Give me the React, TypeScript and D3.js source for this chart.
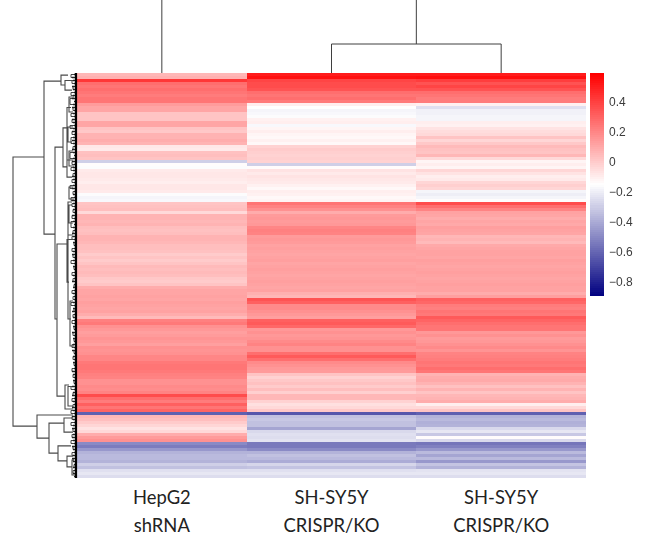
import React from "react";
import * as d3 from "d3";

const hepg2 = [0.05,0.07,0.42,0.26,0.24,0.26,0.24,0.22,0.24,0.24,0.13,0.10,0.10,0.01,0.01,0.01,0.10,0.10,0.01,0.00,0.06,0.06,0.08,0.06,-0.09,-0.10,0.02,0.03,0.01,-0.30,-0.15,-0.17,-0.10,-0.09,-0.09,-0.10,-0.11,-0.09,-0.09,-0.10,-0.17,-0.19,-0.18,0.01,0.02,0.03,-0.05,0.06,0.06,0.05,0.06,0.03,0.02,0.03,0.06,0.06,0.05,0.03,0.03,0.02,-0.01,0.01,-0.01,0.01,0.04,0.03,0.04,0.03,0.00,-0.01,0.01,0.08,0.10,0.10,0.11,0.10,0.12,0.11,0.10,0.11,0.08,0.04,0.21,0.23,0.16,0.14,0.12,0.13,0.15,0.14,0.12,0.16,0.15,0.16,0.19,0.19,0.23,0.24,0.24,0.23,0.21,0.20,0.16,0.16,0.18,0.17,0.20,0.36,0.26,0.22,0.30,0.24,0.29,-0.62,0.05,0.03,-0.01,-0.04,-0.08,-0.05,0.08,0.13,0.16,-0.50,-0.54,-0.46,-0.38,-0.36,-0.36,-0.38,-0.30,-0.34,-0.25,-0.23,-0.26];
const sh1 = [0.50,0.53,0.38,0.36,0.36,0.34,0.26,0.24,0.26,0.23,-0.11,-0.16,-0.19,-0.18,-0.17,-0.12,-0.11,-0.18,-0.13,-0.11,-0.13,-0.14,-0.12,-0.14,-0.03,-0.01,-0.02,-0.03,-0.02,-0.03,-0.30,-0.15,-0.08,-0.10,-0.08,-0.09,-0.10,-0.12,-0.14,-0.11,-0.12,-0.14,-0.13,0.24,0.20,0.16,0.08,0.13,0.14,0.13,0.14,0.19,0.21,0.20,0.13,0.14,0.13,0.11,0.12,0.11,0.10,0.11,0.12,0.10,0.11,0.12,0.11,0.10,0.11,0.12,0.11,0.10,0.11,0.07,0.05,0.34,0.30,0.18,0.18,0.16,0.14,0.12,0.30,0.32,0.28,0.14,0.16,0.14,0.15,0.18,0.20,0.16,0.16,0.26,0.32,0.26,0.18,0.16,0.14,0.13,0.01,-0.03,0.00,0.02,-0.01,0.03,-0.02,0.05,0.05,-0.03,-0.07,-0.05,0.00,-0.65,-0.34,-0.32,-0.34,-0.34,-0.42,-0.27,-0.25,-0.26,-0.24,-0.55,-0.55,-0.50,-0.38,-0.34,-0.36,-0.40,-0.28,-0.33,-0.25,-0.23,-0.26];
const sh2 = [0.50,0.54,0.40,0.34,0.38,0.34,0.26,0.24,0.22,0.22,-0.12,-0.25,-0.20,-0.20,-0.19,-0.19,-0.11,-0.12,-0.08,-0.06,-0.05,0.01,-0.04,0.00,0.04,0.02,0.01,0.05,-0.05,-0.13,-0.11,-0.13,-0.04,-0.08,-0.11,-0.10,-0.04,-0.02,-0.04,-0.19,-0.21,-0.19,-0.15,0.36,0.26,0.20,0.11,0.10,0.08,0.10,0.09,0.12,0.11,0.10,0.05,0.06,0.04,0.09,0.10,0.11,0.11,0.10,0.12,0.11,0.10,0.11,0.12,0.11,0.10,0.11,0.12,0.11,0.11,0.08,0.12,0.30,0.28,0.22,0.21,0.24,0.23,0.32,0.29,0.26,0.24,0.24,0.14,0.16,0.13,0.14,0.16,0.18,0.15,0.20,0.21,0.22,0.24,0.23,0.26,0.24,0.06,0.08,0.09,0.06,0.02,0.06,0.01,0.05,0.06,0.08,-0.11,-0.05,0.01,-0.62,-0.38,-0.36,-0.39,-0.38,-0.27,-0.23,-0.32,-0.15,-0.27,-0.56,-0.53,-0.46,-0.36,-0.42,-0.36,-0.46,-0.33,-0.38,-0.24,-0.23,-0.26];
const columns = [hepg2, sh1, sh2];
const labelTop = ["HepG2", "SH-SY5Y", "SH-SY5Y"];
const labelBottom = ["shRNA", "CRISPR/KO", "CRISPR/KO"];
const barTicks = [0.4, 0.2, 0, -0.2, -0.4, -0.6, -0.8];
const barTickLabels = ["0.4", "0.2", "0", "\u22120.2", "\u22120.4", "\u22120.6", "\u22120.8"];

// Row dendrogram merges: [height, topRow, bottomRow, topChildHeight, bottomChildHeight]
const bigMerges = [
  [64, 28, 117.7, 33, 40],
  [33, 2.7, 53.7, 16, 22],
  [22, 24.7, 82, 14, 20],
  [20, 57, 107.7, 10, 12],
  [16, 0.7, 4, 9, 12],
  [12, 2.5, 5.7, 5, 5],
  [14, 18.3, 31.3, 9, 10],
  [10, 11.5, 34.7, 6, 5],
  [10, 29, 34.7, 4, 5],
  [10, 55.5, 69.7, 5, 8],
  [9, 50, 82, 7, 6],
  [8, 44, 50, 5, 4],
  [9, 43, 54, 5, 4],
  [7, 76, 91, 4, 3],
  [12, 104, 112, 8, 4],
  [9, 104.5, 111, 5, 4],
  [40, 114, 121.7, 4, 28],
  [28, 116.7, 126.7, 13, 19],
  [13, 115, 119.7, 4, 4],
  [19, 124.3, 129.3, 6, 10],
  [10, 127.7, 131.3, 4, 5],
  [5, 129, 134, 3, 2],
  [9, 18, 23, 4, 5],
  [8, 26, 31, 4, 3],
  [8, 38, 42, 4, 3],
  [8, 8, 13, 3, 4],
];
const fineRows = [0,2,4,6,8,11,13,15,17,19,21,24,26,29,31,33,35,37,39,41,43,45,47,49,52,54,56,58,60,62,64,66,68,70,72,74,76,78,80,82,84,86,88,90,92,94,96,98,100,102,104,106,108,110,112,114,116,118,120,122,124,126,128,130,132];
const fineSpans = [2,2,2,2,3,2,2,2,2,2,3,2,3,2,2,2,2,2,2,2,2,2,2,3,2,2,2,2,2,2,2,2,2,2,2,2,2,2,2,2,2,2,2,2,2,2,2,2,2,2,2,2,2,2,2,2,2,2,2,2,2,2,2,2,2];
const fineHeights = [6,5,4,6,7,4,6,5,7,5,6,4,7,5,6,4,5,7,4,6,5,4,5,6,4,5,3,5,4,6,3,5,4,3,5,4,6,3,4,5,3,4,3,5,3,4,3,5,4,3,6,4,5,4,6,5,6,4,5,6,4,5,4,3,4];
const leafLengths = [2,4,3,2,4,3,2,3,4,2,3,4,2,3,2,4,3,2,3,4,2,3,4,3,2,4,3,2,3,4,2,3,3,2,4,3,2,3,4,2,3,2,4,3,2,3,2,4,2,3,2,3,2,4,3,2,3,2,2,3,4,2,3,2,3,2,2,3,2,4,2,3,2,3,2,2,3,2,3,4,2,3,2,2,3,2,4,2,3,2,3,2,4,2,3,2,3,2,2,4,3,2,3,2,4,2,3,4,2,3,2,4,3,2,4,3,2,3,4,2,3,4,3,2,4,3,2,3,4,3,2,3,2,3,2];

const colRootSpan = [1.5, 2.5];
const colMergeHeight = 29;

const W = 648, H = 538;
const nRows = hepg2.length;
const x = d3.scaleLinear().domain([0, 3]).range([77, 586]);
const y = d3.scaleLinear().domain([0, nRows]).range([73, 478]);
const rowH = d3.scaleLinear().domain([0, 64]).range([77, 13]);
const color = d3.scaleLinear<string>().domain([-0.9, -0.16, 0.58]).range(["#000080", "#ffffff", "#ff0000"]);
const barY = d3.scaleLinear().domain([0.587, -0.9]).range([73, 296]);
const barSteps = d3.range(0, 111).map((i) => 0.587 - (i + 0.5) * (1.487 / 111));

function merge(h: number, r1: number, r2: number, c1: number, c2: number) {
  return `M${rowH(c1)},${y(r1)}H${rowH(h)}V${y(r2)}H${rowH(c2)}`;
}

export default function App() {
  const big = bigMerges.map((m) => merge(m[0], m[1], m[2], m[3], m[4])).join("");
  const fine = fineRows.map((r, i) => merge(fineHeights[i], r + 0.5, r + fineSpans[i] - 0.5, 1, 1)).join("");
  const leaves = leafLengths.map((l, i) => `M${rowH(l + 1)},${y(i + 0.5)}H${rowH(0)}`).join("");
  return (
    <svg width={W} height={H} viewBox={`0 0 ${W} ${H}`} style={{ position: "absolute", left: 0, top: 0, background: "#fff" }}>
      <defs>
        <filter id="soft" x="-2%" y="-2%" width="104%" height="104%" colorInterpolationFilters="sRGB">
          <feGaussianBlur stdDeviation="0.65" />
        </filter>
        <filter id="softer" x="-5%" y="-5%" width="110%" height="110%" colorInterpolationFilters="sRGB">
          <feGaussianBlur stdDeviation="0.4" />
        </filter>
      </defs>
      <g filter="url(#soft)" shapeRendering="crispEdges">
        {columns.map((col, c) =>
          col.map((v, i) => (
            <rect key={`${c}-${i}`} x={x(c)} y={y(i)} width={x(c + 1) - x(c)} height={y(i + 1) - y(i) + 0.2} fill={color(v)} />
          ))
        )}
        {barSteps.map((v, i) => (
          <rect key={i} x={590} y={barY(v) - 1.1} width={14} height={2.4} fill={color(v)} />
        ))}
      </g>
      <g fill="none" filter="url(#softer)">
        <path d={big} stroke="#4a4a4a" strokeWidth={1.1} />
        <path d={fine} stroke="#444" strokeWidth={1} />
        <path d={leaves} stroke="#222" strokeWidth={1.5} />
        <path d={`M${rowH(1)},73V478`} stroke="#000" strokeWidth={2.2} />
      </g>
      <g fill="none" stroke="#3f3f3f" strokeWidth={1} filter="url(#softer)">
        <path d={`M${x(0.5)},0V73`} />
        <path d={`M${x(2)},0V${73 - colMergeHeight}`} />
        <path d={`M${x(colRootSpan[0])},73V${73 - colMergeHeight}H${x(colRootSpan[1])}V73`} />
      </g>
      <g fontFamily="'Liberation Sans', Arial, sans-serif" fontSize={12} fill="#3c3c3c" filter="url(#softer)">
        {barTicks.map((t, i) => (
          <text key={t} x={609} y={barY(t) + 4.5}>{barTickLabels[i]}</text>
        ))}
      </g>
      <g fontFamily="Lato, sans-serif" fontSize={18.4} fill="#222" textAnchor="middle">
        {labelTop.map((l, i) => (
          <text key={i} x={x(i + 0.5)} y={504}>{l}</text>
        ))}
        {labelBottom.map((l, i) => (
          <text key={i} x={x(i + 0.5)} y={532}>{l}</text>
        ))}
      </g>
    </svg>
  );
}
